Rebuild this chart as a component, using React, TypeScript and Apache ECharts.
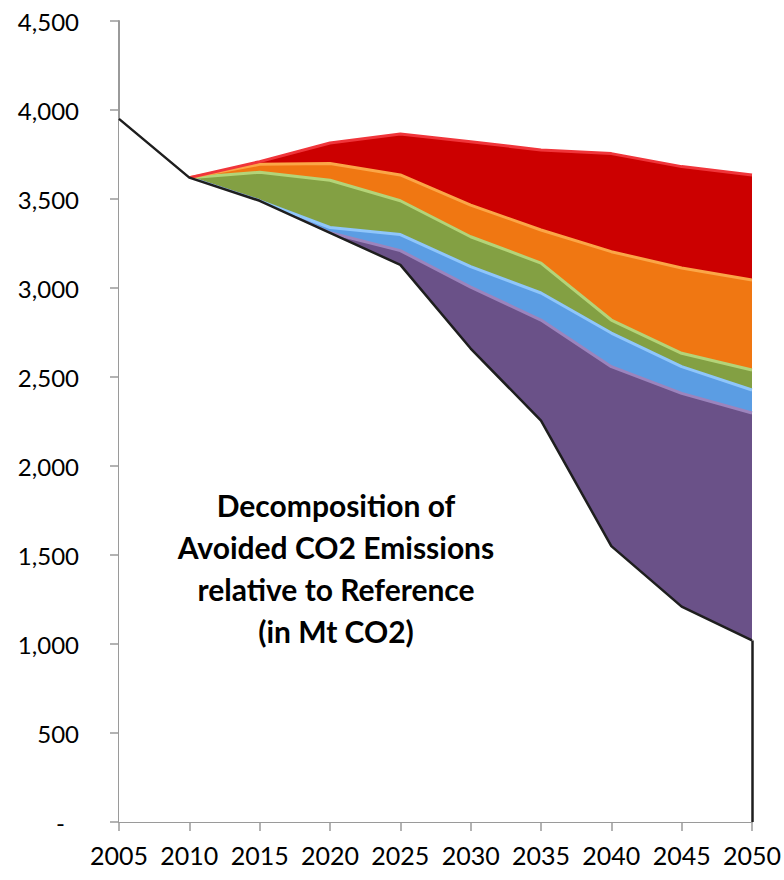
import React, { useEffect, useRef } from "react";
import * as echarts from "echarts";

const years = ["2005", "2010", "2015", "2020", "2025", "2030", "2035", "2040", "2045", "2050"];
// Emissions after all measures (lower black line)
const baseline = [3950, 3620, 3490, 3310, 3130, 2660, 2255, 1550, 1210, 1020];
// Avoided emission wedges stacked on top (bottom to top)
const purpleWedge = [null, 0, 0, 0, 80, 345, 565, 1008, 1198, 1278];
const blueWedge = [null, 0, 0, 30, 90, 115, 152, 189, 150, 129];
const greenWedge = [null, 0, 160, 265, 190, 168, 168, 73, 75, 112];
const orangeWedge = [null, 0, 45, 95, 145, 178, 186, 384, 479, 506];
const redWedge = [null, 0, 15, 115, 230, 356, 449, 551, 570, 590];

const yTicks = { min: 0, max: 4500, interval: 500 };
const titleLines = ["Decomposition of", "Avoided CO2 Emissions", "relative to Reference", "(in Mt CO2)"];

export default function App() {
  const ref = useRef<HTMLDivElement>(null);
  useEffect(() => {
    if (!ref.current) return;
    const chart = echarts.init(ref.current, undefined, { renderer: "svg" });
    const font = "Lato, 'Open Sans', sans-serif";
    const wedge = (name: string, data: (number | null)[], fill: string, edge: string) => ({
      name,
      type: "line",
      stack: "total",
      data,
      symbol: "none",
      z: 2,
      lineStyle: { color: edge, width: 3 },
      areaStyle: { color: fill, opacity: 1 },
    });
    chart.setOption({
      animation: false,
      backgroundColor: "#ffffff",
      grid: { left: 119, right: 26, top: 21, bottom: 58, containLabel: false },
      xAxis: {
        type: "category",
        data: years,
        boundaryGap: false,
        axisLine: { lineStyle: { color: "#9a9a9a", width: 2 } },
        axisTick: { show: true, length: 9, lineStyle: { color: "#9a9a9a", width: 1.5 } },
        axisLabel: { color: "#000", fontSize: 25, fontFamily: font, margin: 20, interval: 0 },
        splitLine: { show: false },
      },
      yAxis: {
        type: "value",
        min: yTicks.min,
        max: yTicks.max,
        interval: yTicks.interval,
        axisLine: { show: true, lineStyle: { color: "#9a9a9a", width: 2 } },
        axisTick: { show: true, length: 9, lineStyle: { color: "#9a9a9a", width: 1.5 } },
        splitLine: { show: false },
        axisLabel: {
          color: "#000",
          fontSize: 24,
          fontFamily: font,
          margin: 40,
          formatter: (v: number) => (v === 0 ? "{z|-}" : v.toLocaleString("en-US")),
          rich: { z: { fontSize: 24, fontFamily: font, color: "#000", padding: [0, 14, 0, 0] } },
        },
      },
      series: [
        {
          name: "Emissions",
          type: "line",
          stack: "total",
          data: baseline,
          symbol: "none",
          z: 4,
          lineStyle: { color: "#1e1e1e", width: 2.5 },
          areaStyle: { color: "#ffffff", opacity: 1 },
          markLine: {
            silent: true,
            symbol: "none",
            label: { show: false },
            lineStyle: { color: "#1e1e1e", width: 2.5, type: "solid" },
            data: [[{ coord: [years[years.length - 1], 0] }, { coord: [years[years.length - 1], baseline[baseline.length - 1]] }]],
          },
        },
        wedge("Purple", purpleWedge, "#6a5188", "#9c84bd"),
        wedge("Blue", blueWedge, "#5b9de3", "#8fc6fb"),
        wedge("Green", greenWedge, "#83a043", "#b4d478"),
        wedge("Orange", orangeWedge, "#f07712", "#fba647"),
        wedge("Red", redWedge, "#cc0000", "#f0353a"),
      ],
      graphic: titleLines.map((line, i) => ({
        type: "text",
        x: 336,
        y: 505 + i * 42,
        z: 100,
        style: {
          text: line,
          align: "center",
          verticalAlign: "middle",
          font: `bold 30px ${font}`,
          fill: "#000",
        },
      })),
    });
    return () => chart.dispose();
  }, []);
  return <div ref={ref} style={{ position: "absolute", left: 0, top: 0, width: 784, height: 880 }} />;
}
